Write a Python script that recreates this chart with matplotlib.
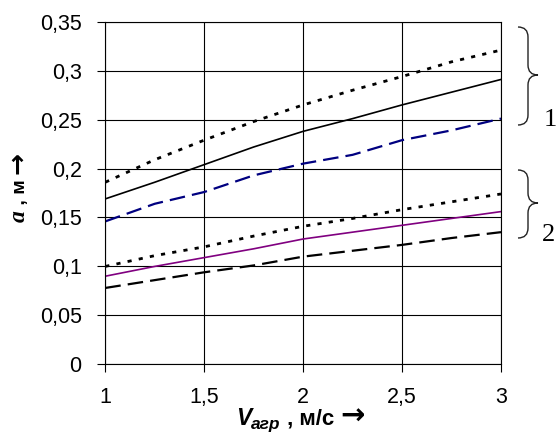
import matplotlib
matplotlib.use("Agg")
import matplotlib.pyplot as plt
from matplotlib.path import Path
from matplotlib.patches import PathPatch

# Aggregate speed, m/s
speed = [1.0, 1.25, 1.5, 1.75, 2.0, 2.25, 2.5, 2.75, 3.0]

# Group 1
g1_upper = [0.186, 0.209, 0.229, 0.248, 0.265, 0.280, 0.294, 0.309, 0.321]
g1_mid = [0.169, 0.186, 0.204, 0.222, 0.238, 0.251, 0.265, 0.278, 0.291]
g1_lower = [0.146, 0.164, 0.176, 0.193, 0.205, 0.214, 0.229, 0.239, 0.251]

# Group 2
g2_upper = [0.100, 0.111, 0.120, 0.131, 0.141, 0.149, 0.158, 0.166, 0.174]
g2_mid = [0.090, 0.100, 0.109, 0.118, 0.128, 0.135, 0.142, 0.149, 0.156]
g2_lower = [0.078, 0.086, 0.094, 0.101, 0.110, 0.116, 0.122, 0.129, 0.135]

x_ticks = [1.0, 1.5, 2.0, 2.5, 3.0]
x_tick_labels = ["1", "1,5", "2", "2,5", "3"]
y_ticks = [0.0, 0.05, 0.1, 0.15, 0.2, 0.25, 0.3, 0.35]
y_tick_labels = ["0", "0,05", "0,1", "0,15", "0,2", "0,25", "0,3", "0,35"]

W, H = 558, 443
fig = plt.figure(figsize=(W / 100, H / 100), dpi=100)
fig.patch.set_facecolor("white")
ax = fig.add_axes([105.3 / W, 1 - 364.3 / H, (501 - 105.3) / W, (364.3 - 21.7) / H])

dotted = (0, (1.5, 2.6))
dashed = (0, (7.0, 3.2))

ax.plot(speed, g1_upper, color="black", lw=2.0, linestyle=dotted, dash_capstyle="butt")
ax.plot(speed, g1_mid, color="black", lw=1.2)
ax.plot(speed, g1_lower, color="#000080", lw=1.6, linestyle=dashed, dash_capstyle="butt")
ax.plot(speed, g2_upper, color="black", lw=2.0, linestyle=dotted, dash_capstyle="butt")
ax.plot(speed, g2_mid, color="#800080", lw=1.2)
ax.plot(speed, g2_lower, color="black", lw=1.6, linestyle=dashed, dash_capstyle="butt")

ax.set_xlim(1, 3)
ax.set_ylim(0, 0.35)
ax.set_xticks(x_ticks)
ax.set_xticklabels(x_tick_labels)
ax.set_yticks(y_ticks)
ax.set_yticklabels(y_tick_labels)
ax.grid(True, color="black", lw=0.8)
ax.set_axisbelow(True)
for s in ax.spines.values():
    s.set_color("black")
    s.set_linewidth(0.8)
ax.tick_params(axis="both", direction="out", length=5.5, width=0.8, color="black",
               labelsize=15.5, labelcolor="black")
ax.tick_params(axis="y", pad=11.5)
ax.tick_params(axis="x", pad=10.5)
for lab in ax.get_xticklabels() + ax.get_yticklabels():
    lab.set_fontfamily("Liberation Sans")

sans = ["Liberation Sans", "DejaVu Sans"]

# x-axis label: V_агр , м/с →
base_x = 443 - 425
t1 = fig.text(236 / W, base_x / H, "V", fontsize=16.5, fontweight="bold", fontstyle="italic",
              family=sans, va="baseline", ha="left")
t2 = ax.annotate("агр", xy=(1.0, base_x - 4), xycoords=(t1, "figure pixels"),
                 fontsize=12.5, fontweight="bold", fontstyle="italic", family=sans,
                 va="baseline", ha="left", annotation_clip=False)
t3 = ax.annotate(" , м/с ", xy=(1.0, base_x), xycoords=(t2, "figure pixels"),
                 fontsize=16, fontweight="bold", family=sans, va="baseline", ha="left",
                 annotation_clip=False)
ax.annotate("→", xy=(1.0, base_x), xycoords=(t3, "figure pixels"),
            fontsize=21, fontweight="bold", family=["DejaVu Sans"], va="baseline", ha="left",
            annotation_clip=False)

# y-axis label: a , м →
base_y = 25
y1 = fig.text(base_y / W, 221 / H, "a", fontsize=17, fontweight="bold", fontstyle="italic",
              family=["Liberation Serif", "DejaVu Serif"], rotation=90,
              rotation_mode="anchor", ha="left", va="baseline")
y2 = ax.annotate(" , м ", xy=(base_y, 1.0), xycoords=("figure pixels", y1),
                 fontsize=14, fontweight="bold", family=sans, rotation=90,
                 rotation_mode="anchor", ha="left", va="baseline", annotation_clip=False)
ax.annotate("→", xy=(base_y, 1.0), xycoords=("figure pixels", y2),
            fontsize=19, fontweight="bold", family=["DejaVu Sans"], rotation=90,
            rotation_mode="anchor", ha="left", va="baseline", annotation_clip=False)


def brace(top, bottom, cusp, x_end=518, x_mid=528, x_tip=538):
    """Right-facing curly brace in figure pixels (y measured from top)."""
    f = lambda y: H - y
    r = 10
    verts = [
        (x_end, f(top)),
        (x_mid, f(top)), (x_mid, f(top + r)),
        (x_mid, f(cusp - r)),
        (x_mid, f(cusp)), (x_tip, f(cusp)),
        (x_mid, f(cusp)), (x_mid, f(cusp + r)),
        (x_mid, f(bottom - r)),
        (x_mid, f(bottom)), (x_end, f(bottom)),
    ]
    codes = [Path.MOVETO, Path.CURVE3, Path.CURVE3, Path.LINETO,
             Path.CURVE3, Path.CURVE3, Path.CURVE3, Path.CURVE3,
             Path.LINETO, Path.CURVE3, Path.CURVE3]
    verts = [(vx / W, vy / H) for vx, vy in verts]
    patch = PathPatch(Path(verts, codes), transform=fig.transFigure, fill=False,
                      edgecolor="#222222", lw=1.0)
    fig.add_artist(patch)


brace(27, 125, 75)
brace(170, 238, 203)
serif = ["Liberation Serif", "DejaVu Serif"]
fig.text(544 / W, (443 - 126) / H, "1", fontsize=19, family=serif, va="baseline", ha="left")
fig.text(542 / W, (443 - 241) / H, "2", fontsize=19, family=serif, va="baseline", ha="left")

fig.savefig("out.png", dpi=100)
